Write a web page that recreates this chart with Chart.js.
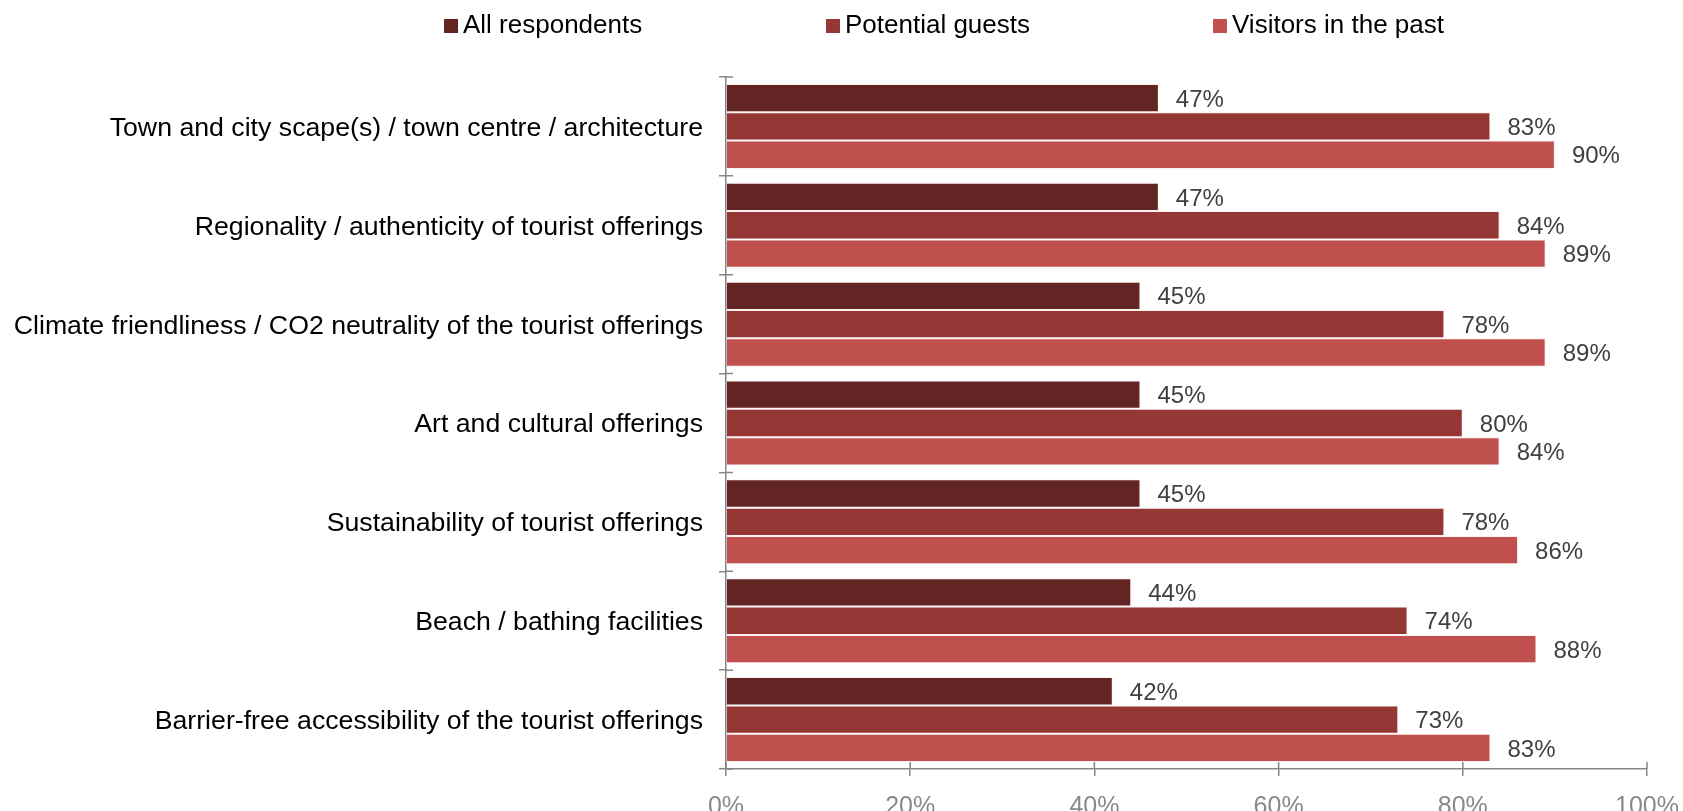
<!DOCTYPE html>
<html>
<head>
<meta charset="utf-8">
<title>Tourist offerings</title>
<script src="https://cdn.jsdelivr.net/npm/chart.js@4.4.1/dist/chart.umd.min.js"></script>
<style>
  html, body { margin: 0; padding: 0; background: #ffffff; overflow: hidden; }
</style>
</head>
<body>
<canvas id="myBarChart" width="1683" height="811"></canvas>
<script>
var categories = [
    'Town and city scape(s) / town centre / architecture',
    'Regionality / authenticity of tourist offerings',
    'Climate friendliness / CO2 neutrality of the tourist offerings',
    'Art and cultural offerings',
    'Sustainability of tourist offerings',
    'Beach / bathing facilities',
    'Barrier-free accessibility of the tourist offerings'
];
var allRespondents  = [47, 47, 45, 45, 45, 44, 42];
var potentialGuests = [83, 84, 78, 80, 78, 74, 73];
var pastVisitors    = [90, 89, 89, 84, 86, 88, 83];

var seriesNames  = ['All respondents', 'Potential guests', 'Visitors in the past'];
var seriesColors = ['#632523', '#953735', '#C0504D'];
var xTickValues  = [0, 20, 40, 60, 80, 100];

var FONT = '"Liberation Sans", Arial, sans-serif';
var AXIS_GREY = '#868686';

// legend row along the top, one box + name per dataset
var legendRow = {
    id: 'legendRow',
    afterDraw: function (chart, args, opts) {
        var ctx = chart.ctx;
        ctx.save();
        ctx.font = opts.fontSize + 'px ' + FONT;
        ctx.textBaseline = 'middle';
        ctx.textAlign = 'left';
        chart.data.datasets.forEach(function (ds, i) {
            var x = opts.starts[i];
            ctx.fillStyle = ds.backgroundColor;
            ctx.fillRect(x, opts.y - opts.box / 2, opts.box, opts.box);
            ctx.fillStyle = '#000000';
            ctx.fillText(ds.label, x + opts.box + 5, opts.y);
        });
        ctx.restore();
    }
};

// value labels just past the end of each bar
var valueLabels = {
    id: 'valueLabels',
    afterDatasetsDraw: function (chart) {
        var ctx = chart.ctx;
        ctx.save();
        ctx.font = '24px ' + FONT;
        ctx.fillStyle = '#404040';
        ctx.textAlign = 'left';
        ctx.textBaseline = 'middle';
        chart.data.datasets.forEach(function (ds, i) {
            chart.getDatasetMeta(i).data.forEach(function (bar, j) {
                ctx.fillText(ds.data[j] + '%', bar.x + 17, bar.y + 2);
            });
        });
        ctx.restore();
    }
};

// tick marks that also cross into the plot area
var innerTicks = {
    id: 'innerTicks',
    afterDraw: function (chart) {
        var ctx = chart.ctx;
        var xs = chart.scales.x, ys = chart.scales.y;
        var len = 7;
        ctx.save();
        ctx.strokeStyle = AXIS_GREY;
        ctx.lineWidth = 1.5;
        ctx.beginPath();
        var n = categories.length;
        for (var i = 0; i <= n; i++) {
            var y = ys.top + i * (ys.bottom - ys.top) / n;
            ctx.moveTo(xs.left, y);
            ctx.lineTo(xs.left + len, y);
        }
        xTickValues.forEach(function (v) {
            var x = xs.getPixelForValue(v);
            ctx.moveTo(x, ys.bottom);
            ctx.lineTo(x, ys.bottom - len);
        });
        ctx.stroke();
        ctx.restore();
    }
};

var chartdata = {
    labels: categories,
    datasets: [
        { label: seriesNames[0], data: allRespondents,  backgroundColor: seriesColors[0] },
        { label: seriesNames[1], data: potentialGuests, backgroundColor: seriesColors[1] },
        { label: seriesNames[2], data: pastVisitors,    backgroundColor: seriesColors[2] }
    ]
};

var barGraph = new Chart(document.getElementById('myBarChart'), {
    type: 'bar',
    data: chartdata,
    plugins: [legendRow, valueLabels, innerTicks],
    options: {
        indexAxis: 'y',
        responsive: false,
        animation: false,
        devicePixelRatio: 1,
        layout: { padding: { top: 77, right: 36, bottom: 0, left: 0 } },
        datasets: {
            bar: {
                categoryPercentage: 0.86,
                barPercentage: 1.0,
                borderWidth: 1,
                borderColor: 'rgba(255, 215, 215, 0.35)',
                borderSkipped: 'start'
            }
        },
        plugins: {
            legend: { display: false },
            tooltip: { enabled: false },
            legendRow: { starts: [444, 826, 1213], y: 26, box: 14, fontSize: 26 }
        },
        scales: {
            x: {
                min: 0,
                max: 100,
                afterFit: function (scale) {
                    scale.height = 42;
                    scale.paddingLeft = 0;
                    scale.paddingRight = 0;
                },
                afterBuildTicks: function (scale) {
                    scale.ticks = xTickValues.map(function (v) { return { value: v }; });
                },
                ticks: {
                    padding: 16,
                    color: '#898989',
                    font: { family: FONT, size: 25 },
                    callback: function (v) { return v + '%'; }
                },
                grid: { drawOnChartArea: false, drawTicks: true, tickLength: 7, color: AXIS_GREY, lineWidth: 1.5 },
                border: { display: true, color: AXIS_GREY, width: 1.5 }
            },
            y: {
                afterFit: function (scale) {
                    scale.width = 726;
                    scale.paddingTop = 0;
                    scale.paddingBottom = 0;
                },
                ticks: {
                    padding: 16,
                    labelOffset: 2,
                    color: '#000000',
                    font: { family: FONT, size: 26.7 }
                },
                grid: { offset: true, drawOnChartArea: false, drawTicks: true, tickLength: 7, color: AXIS_GREY, lineWidth: 1.5 },
                border: { display: true, color: AXIS_GREY, width: 1.5 }
            }
        }
    }
});
</script>
</body>
</html>
